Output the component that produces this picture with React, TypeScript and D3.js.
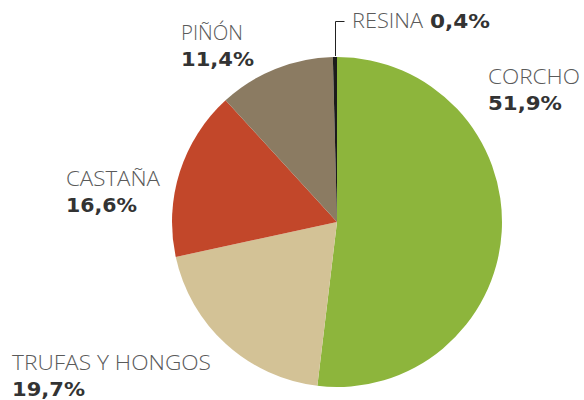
import React from "react";
import * as d3 from "d3";

const categories = ["CORCHO", "TRUFAS Y HONGOS", "CASTAÑA", "PIÑÓN", "RESINA"];
const values = [51.9, 19.7, 16.6, 11.4, 0.4];
const valueLabels = ["51,9%", "19,7%", "16,6%", "11,4%", "0,4%"];
const colors = ["#8db53c", "#d3c296", "#c2472a", "#8b7b62", "#1b1b1b"];

const W = 584;
const H = 400;
const cx = 337;
const cy = 222;
const R = 165;

// layout: [x, baseline y, name width, value width]
const labelLayout: Record<string, [number, number, number, number]> = {
  "CORCHO": [488, 84, 92, 74],
  "TRUFAS Y HONGOS": [12, 370, 199, 73],
  "CASTAÑA": [66, 186, 94, 71],
  "PIÑÓN": [181, 40, 62, 73],
};

const lightFont = "'Open Sans', 'Liberation Sans', sans-serif";
const boldFont = "'DejaVu Sans', 'Liberation Sans', sans-serif";

export default function App() {
  const data = categories.map((c, i) => ({ c, v: values[i], col: colors[i] }));
  const pie = d3.pie<any>().sort(null).value((d: any) => d.v);
  const arcs = pie(data);
  const arc = d3.arc<any>().innerRadius(0).outerRadius(R);

  const resina = arcs[4];
  const midA = (resina.startAngle + resina.endAngle) / 2;
  const lx = Math.round(cx + Math.sin(midA) * (R + 1)) + 0.5;
  const ly = cy - Math.cos(midA) * (R + 1);

  return (
    <svg width={W} height={H} style={{ position: "absolute", left: 0, top: 0, background: "#fff" }}>
      <g transform={`translate(${cx},${cy})`}>
        {arcs.map((a, i) => (
          <path key={i} d={arc(a) as string} fill={a.data.col} />
        ))}
      </g>
      <path
        d={`M${lx},${ly} L${lx},21.5 L${lx + 9},21.5`}
        fill="none"
        stroke="#222"
        strokeWidth={1}
      />
      <text x={352} y={28} fontFamily={lightFont} fontWeight={300} fontSize={20}
        fill="#5a5a5a" textLength={71} lengthAdjust="spacingAndGlyphs">
        {categories[4]}
      </text>
      <text x={430} y={28} fontFamily={boldFont} fontWeight={700} fontSize={20}
        fill="#333" textLength={60} lengthAdjust="spacingAndGlyphs">
        {valueLabels[4]}
      </text>
      {categories.slice(0, 4).map((c, i) => {
        const [x, y, nw, vw] = labelLayout[c];
        return (
          <g key={c}>
            <text x={x} y={y} fontFamily={lightFont} fontWeight={300} fontSize={20}
              fill="#5a5a5a" textLength={nw} lengthAdjust="spacingAndGlyphs">
              {c}
            </text>
            <text x={x} y={y + 26} fontFamily={boldFont} fontWeight={700} fontSize={20}
              fill="#333" textLength={vw} lengthAdjust="spacingAndGlyphs">
              {valueLabels[i]}
            </text>
          </g>
        );
      })}
    </svg>
  );
}
